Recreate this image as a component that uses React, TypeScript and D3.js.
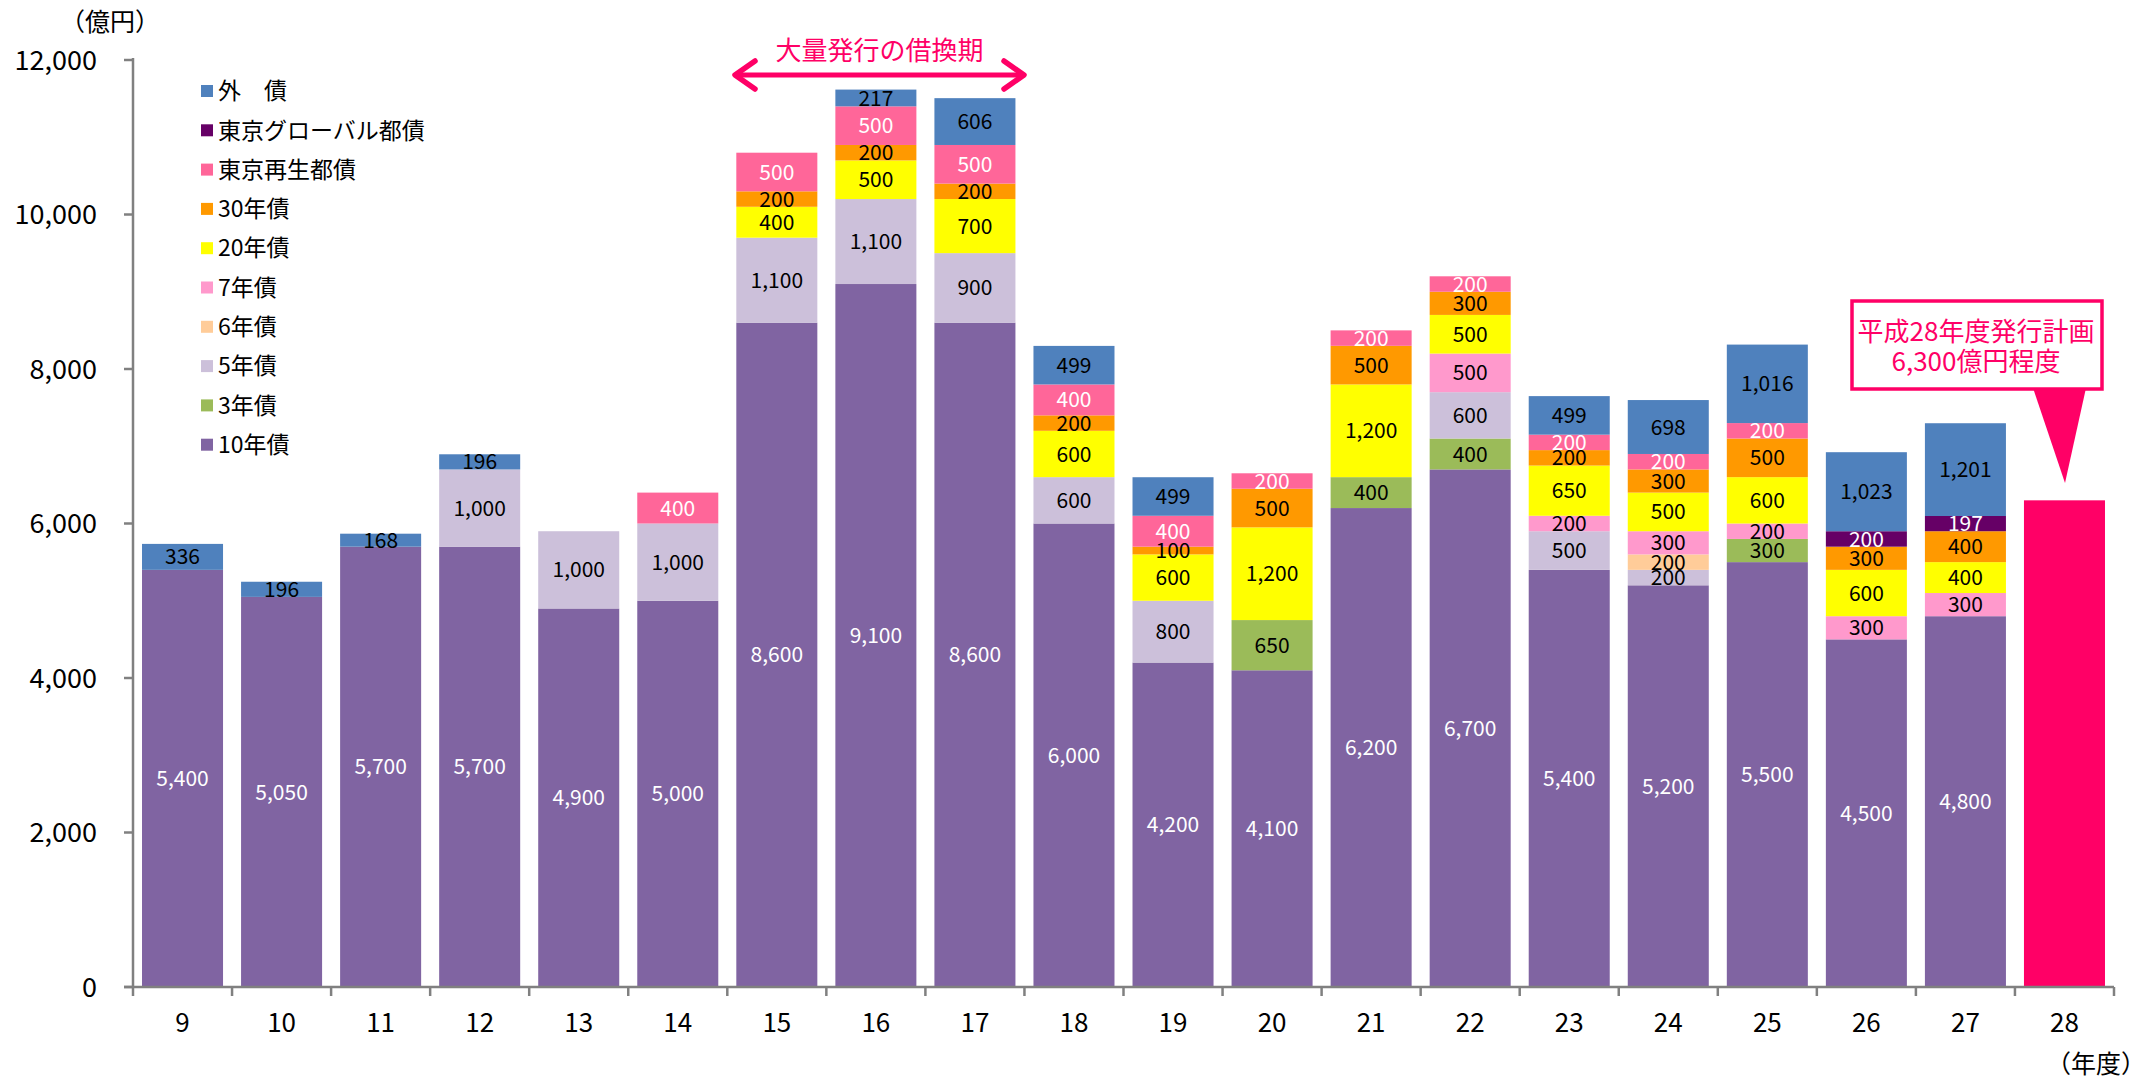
import React from "react";
import * as d3 from "d3";

const years = ["9","10","11","12","13","14","15","16","17","18","19","20","21","22","23","24","25","26","27","28"];

const s10 = [5400,5050,5700,5700,4900,5000,8600,9100,8600,6000,4200,4100,6200,6700,5400,5200,5500,4500,4800,0];
const s3 = [0,0,0,0,0,0,0,0,0,0,0,650,400,400,0,0,300,0,0,0];
const s5 = [0,0,0,1000,1000,1000,1100,1100,900,600,800,0,0,600,500,200,0,0,0,0];
const s6 = [0,0,0,0,0,0,0,0,0,0,0,0,0,0,0,200,0,0,0,0];
const s7 = [0,0,0,0,0,0,0,0,0,0,0,0,0,500,200,300,200,300,300,0];
const s20 = [0,0,0,0,0,0,400,500,700,600,600,1200,1200,500,650,500,600,600,400,0];
const s30 = [0,0,0,0,0,0,200,200,200,200,100,500,500,300,200,300,500,300,400,0];
const sSaisei = [0,0,0,0,0,400,500,500,500,400,400,200,200,200,200,200,200,0,0,0];
const sGlobal = [0,0,0,0,0,0,0,0,0,0,0,0,0,0,0,0,0,200,197,0];
const sGaisai = [336,196,168,196,0,0,0,217,606,499,499,0,0,0,499,698,1016,1023,1201,0];
const plan = [0,0,0,0,0,0,0,0,0,0,0,0,0,0,0,0,0,0,0,6300];

const yTicks = [0,2000,4000,6000,8000,10000,12000];

const series = [
  { name: "10年債", values: s10, color: "#8064A2", label: "#ffffff" },
  { name: "3年債", values: s3, color: "#9BBB59", label: "#000000" },
  { name: "5年債", values: s5, color: "#CCC0DA", label: "#000000" },
  { name: "6年債", values: s6, color: "#FFCC99", label: "#000000" },
  { name: "7年債", values: s7, color: "#FF99CC", label: "#000000" },
  { name: "20年債", values: s20, color: "#FFFF00", label: "#000000" },
  { name: "30年債", values: s30, color: "#FF9900", label: "#000000" },
  { name: "東京再生都債", values: sSaisei, color: "#FF6699", label: "#ffffff" },
  { name: "東京グローバル都債", values: sGlobal, color: "#660066", label: "#ffffff" },
  { name: "外　債", values: sGaisai, color: "#4F81BD", label: "#000000" },
];

const FONT = "'Noto Sans CJK JP', 'Noto Sans', sans-serif";
const PINK = "#FF0066";

export default function App() {
  const W = 2149, H = 1079;
  const x0 = 133, x1 = 2114, yBase = 987, yTop = 60;
  const x = d3.scaleBand<string>().domain(years).range([x0, x1]).paddingInner(0.182).paddingOuter(0.091);
  const y = d3.scaleLinear().domain([0, 12000]).range([yBase, yTop]);
  const fmt = d3.format(",");
  const bw = x.bandwidth();

  const rects: React.ReactNode[] = [];
  const labels: React.ReactNode[] = [];
  years.forEach((yr, i) => {
    let acc = 0;
    series.forEach((s, si) => {
      const v = s.values[i];
      if (!v) return;
      const y0 = y(acc), y1 = y(acc + v);
      rects.push(<rect key={`r${i}-${si}`} x={x(yr)} y={y1} width={bw} height={y0 - y1} fill={s.color} />);
      labels.push(
        <text key={`l${i}-${si}`} x={(x(yr) as number) + bw / 2} y={(y0 + y1) / 2} dy="0.36em" textAnchor="middle" fontSize={21} fill={s.label}>
          {fmt(v)}
        </text>
      );
      acc += v;
    });
    if (plan[i]) {
      rects.push(<rect key={`p${i}`} x={x(yr)} y={y(plan[i])} width={bw} height={yBase - y(plan[i])} fill={PINK} />);
    }
  });

  const step = x.step();
  const bounds = d3.range(years.length + 1).map((k) => x0 + k * step);

  const legendItems = [...series].reverse();

  const i15 = years.indexOf("15"), i17 = years.indexOf("17");
  const ax0 = 733, ax1 = 1026, ay = 75;

  const tipX = 2065, tipY = 483;

  return (
    <div style={{ position: "absolute", left: 0, top: 0 }}>
      <svg width={W} height={H} style={{ display: "block", fontFamily: FONT }}>
        <rect width={W} height={H} fill="#ffffff" />
        {rects}
        {labels}
        {/* axes */}
        <line x1={x0} x2={x0} y1={yTop - 2} y2={yBase} stroke="#808080" strokeWidth={2.5} />
        <line x1={x0 - 9} x2={x1} y1={yBase} y2={yBase} stroke="#808080" strokeWidth={2.5} />
        {yTicks.map((t) => (
          <g key={`yt${t}`}>
            <line x1={x0 - 9} x2={x0} y1={y(t)} y2={y(t)} stroke="#808080" strokeWidth={2.5} />
            <text x={97} y={y(t)} dy="0.36em" textAnchor="end" fontSize={27} fill="#000">{fmt(t)}</text>
          </g>
        ))}
        {bounds.map((b, k) => (
          <line key={`xt${k}`} x1={b} x2={b} y1={yBase} y2={yBase + 9} stroke="#808080" strokeWidth={2.5} />
        ))}
        {years.map((yr) => (
          <text key={`xl${yr}`} x={(x(yr) as number) + bw / 2} y={1023} dy="0.36em" textAnchor="middle" fontSize={26} fill="#000">{yr}</text>
        ))}
        <text x={110} y={22} dy="0.36em" textAnchor="middle" fontSize={25} fill="#000">（億円）</text>
        <text x={2096} y={1064} dy="0.36em" textAnchor="middle" fontSize={25} fill="#000">（年度）</text>

        {/* legend */}
        {legendItems.map((s, k) => {
          const cy = 91 + k * 39.3;
          return (
            <g key={`lg${k}`}>
              <rect x={201} y={cy - 6} width={12} height={12} fill={s.color} />
              <text x={218} y={cy} dy="0.36em" fontSize={23} fill="#000">{s.name}</text>
            </g>
          );
        })}

        {/* refinancing arrow */}
        <text x={(ax0 + ax1) / 2} y={51} dy="0.36em" textAnchor="middle" fontSize={26} fill={PINK}>大量発行の借換期</text>
        <line x1={ax0 + 3} x2={ax1 - 3} y1={ay} y2={ay} stroke={PINK} strokeWidth={5} />
        <polyline points={`${ax0 + 22},${ay - 14} ${ax0 + 2},${ay} ${ax0 + 22},${ay + 14}`} fill="none" stroke={PINK} strokeWidth={5.5} strokeLinecap="round" strokeLinejoin="round" />
        <polyline points={`${ax1 - 22},${ay - 14} ${ax1 - 2},${ay} ${ax1 - 22},${ay + 14}`} fill="none" stroke={PINK} strokeWidth={5.5} strokeLinecap="round" strokeLinejoin="round" />

        {/* callout */}
        <polygon points={`2033,388 2086,388 ${tipX},${tipY}`} fill={PINK} />
        <rect x={1852} y={301} width={250} height={88} fill="#ffffff" stroke={PINK} strokeWidth={3.5} />
        <text x={1976} y={332} dy="0.36em" textAnchor="middle" fontSize={26} fill={PINK}>平成28年度発行計画</text>
        <text x={1976} y={362} dy="0.36em" textAnchor="middle" fontSize={26} fill={PINK}>6,300億円程度</text>
      </svg>
    </div>
  );
}
